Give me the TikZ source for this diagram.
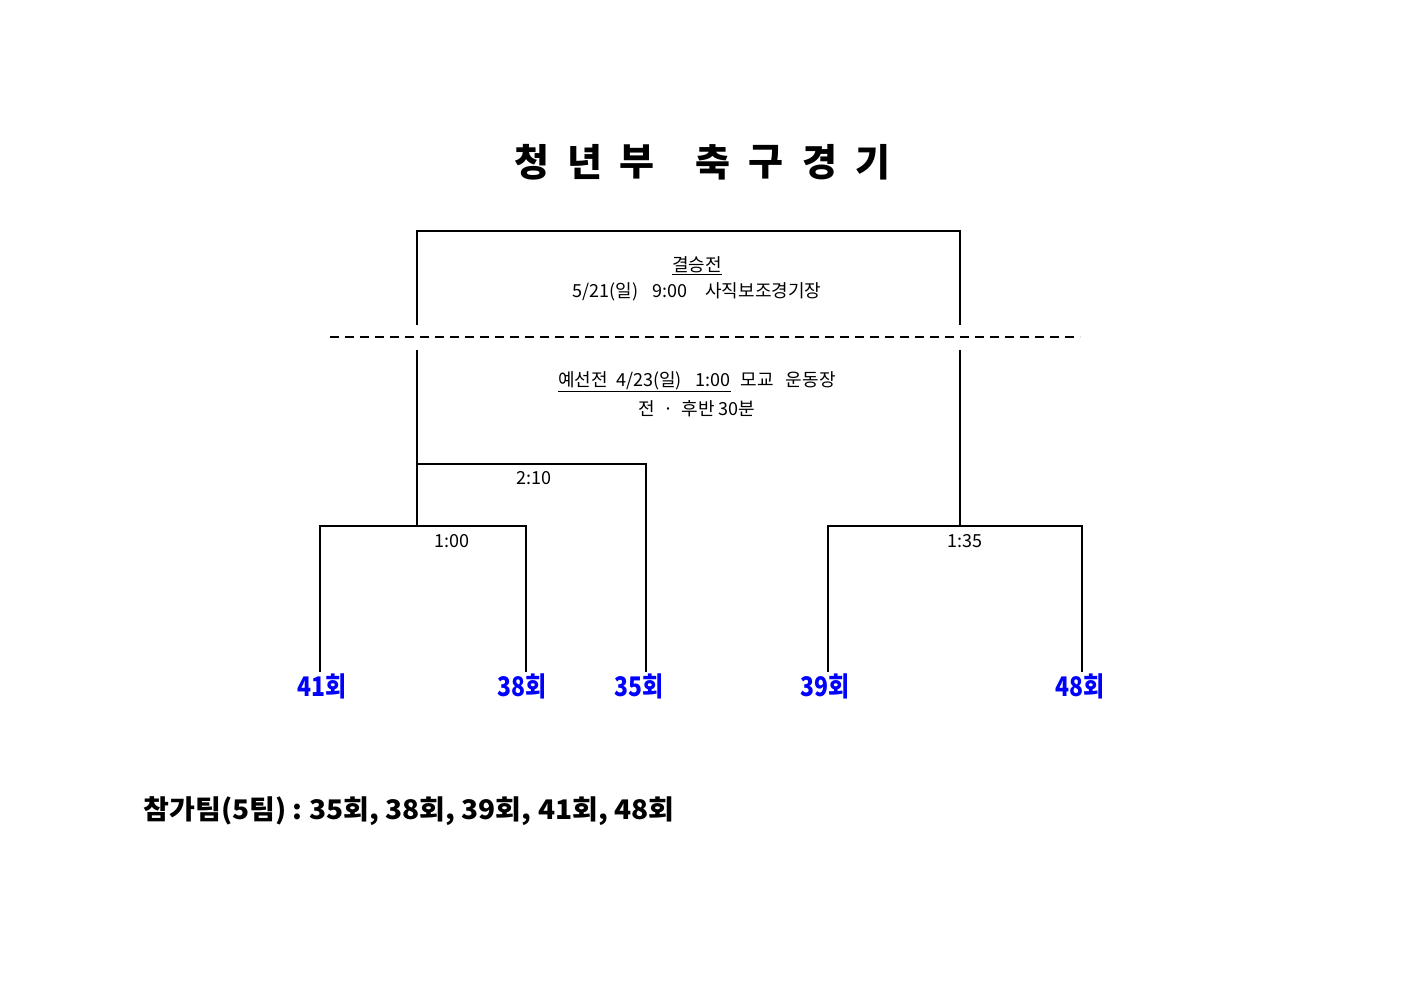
\documentclass[tikz,border=0pt]{standalone}
\usepackage{fontspec}
\setmainfont{Noto Sans CJK KR}
\begin{document}
\begin{tikzpicture}[x=1pt,y=-1pt,line width=1.6pt,
  lbl/.style={font=\fontsize{18}{20}\selectfont,inner sep=0pt},
  team/.style={font=\fontsize{27}{29}\selectfont\bfseries,text=blue,inner sep=0pt,xscale=0.85},
  ttl/.style={font=\fontsize{38}{40}\selectfont\bfseries,inner sep=0pt}]
\useasboundingbox (0,0) rectangle (1403,992);
\foreach \c/\x in {청/532,년/585,부/637,축/713,구/766,경/820,기/873}
  \node[ttl] (t\x) at (\x,162) {\c};
% top box
\coordinate (fa) at (417,325); \coordinate (fb) at (960,325);
\draw (fa) -- (417,231) -- (960,231) -- (fb);
\draw[dashed,dash pattern=on 9pt off 6pt] (330,337) -- (1080,337);
\node[lbl] (f1) at (697,266) {\underline{결승전}};
\node[lbl] (f2) at (697,292) {5/21(일)\hspace{14pt}9:00\hspace{18pt}사직보조경기장};
\node[lbl] (p1) at (697,382) {\underline{예선전\hspace{8pt}4/23(일)\hspace{14pt}1:00}\hspace{10pt}모교\hspace{12pt}운동장};
\node[lbl] (p2) at (697,409) {전\hspace{8pt}·\hspace{8pt}후반 30분};
% brackets
\coordinate (l0) at (417,350); \coordinate (l1) at (417,526);
\coordinate (r0) at (960,350); \coordinate (r1) at (960,526);
\draw (l0) -- (l1); \draw (r0) -- (r1);
\draw (417,464) -- (646,464) -- (646,672);
\draw (320,672) -- (320,526) -- (526,526) -- (526,672);
\draw (828,672) -- (828,526) -- (1082,526) -- (1082,672);
\node[lbl] (m1) at (534,478) {2:10};
\node[lbl] (m2) at (452,541) {1:00};
\node[lbl] (m3) at (965,541) {1:35};
\node[team] (a) at (322,686) {41회};
\node[team] (b) at (522,686) {38회};
\node[team] (c) at (639,686) {35회};
\node[team] (d) at (825,686) {39회};
\node[team] (e) at (1080,686) {48회};
\node[font=\fontsize{27}{29}\selectfont\bfseries,inner sep=0pt,anchor=west,xscale=1.04] (ft) at (143,811) {참가팀(5팀)\hspace{6pt}:\hspace{6pt}35회, 38회, 39회, 41회, 48회};
\end{tikzpicture}
\end{document}
